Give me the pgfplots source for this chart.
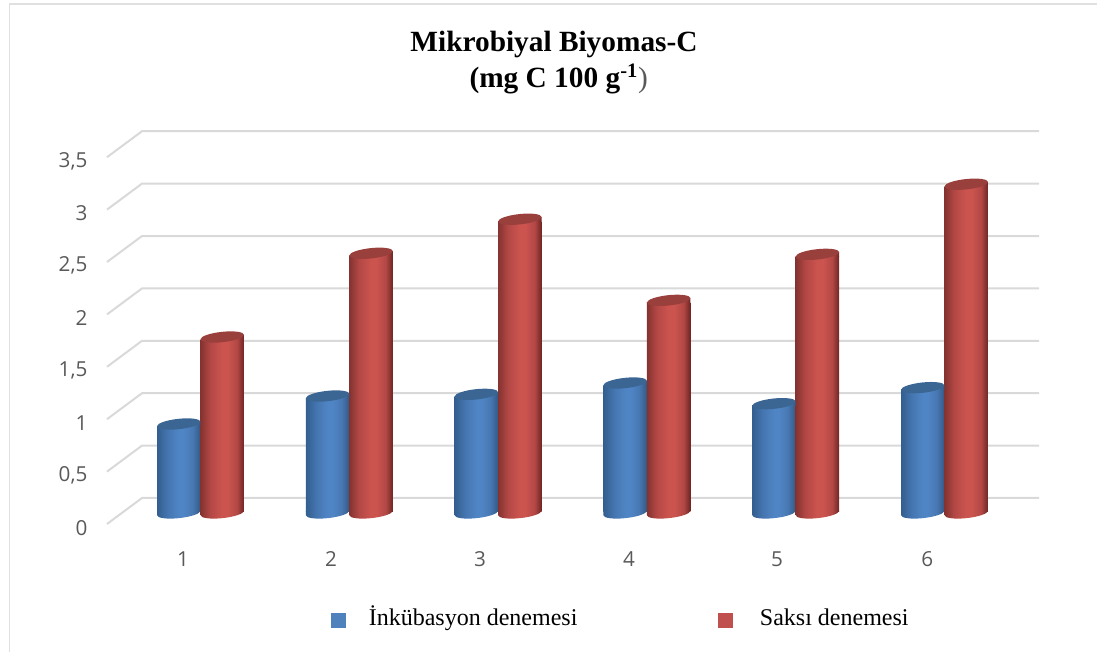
\documentclass[border=0pt]{standalone}
\usepackage{fontspec}
\setmainfont{Liberation Serif}
\newfontfamily\tickfont{Open Sans}
\usepackage{pgfplots}
\usepackage{pgfplotstable}
\pgfplotsset{compat=1.18}
\definecolor{gridc}{HTML}{D9D9D9}
\definecolor{bord}{HTML}{E0E0E0}
\definecolor{tickc}{HTML}{595959}
\definecolor{legB}{HTML}{4F81BD}
\definecolor{legR}{HTML}{C0504D}
\pgfdeclarehorizontalshading{cylBlue}{100bp}{
 rgb(0bp)=(.20,.37,.56); rgb(25bp)=(.20,.37,.56); rgb(37bp)=(.27,.46,.69); rgb(50bp)=(.31,.52,.77); rgb(56bp)=(.31,.52,.77); rgb(66bp)=(.28,.47,.70); rgb(75bp)=(.20,.35,.52); rgb(100bp)=(.20,.35,.52)}
\pgfdeclarehorizontalshading{cylRed}{100bp}{
 rgb(0bp)=(.52,.20,.19); rgb(25bp)=(.52,.20,.19); rgb(36bp)=(.70,.28,.27); rgb(50bp)=(.80,.33,.31); rgb(56bp)=(.80,.33,.31); rgb(67bp)=(.70,.28,.27); rgb(73bp)=(.50,.18,.17); rgb(75bp)=(.42,.15,.14); rgb(100bp)=(.42,.15,.14)}
% half-width, tilt and half-height of the cylinder's ellipses
\def\cylw{16.3pt}\def\cyls{1.65pt}\def\cylh{3.9pt}
\newcommand\cylellipse{\pgfpathellipse{\pgfpointorigin}{\pgfpoint{\cylw}{\cyls}}{\pgfpoint{0pt}{\cylh}}}
% bottom: shaded ellipse and the triangle that closes it up to the flat foot of the bar
\newcommand\cylfoot[1]{%
 \cylellipse
 \pgfpathmoveto{\pgfpoint{-\cylw}{-\cyls}}%
 \pgfpathlineto{\pgfpoint{\cylw}{\cyls}}%
 \pgfpathlineto{\pgfpoint{-\cylw}{\cyls}}%
 \pgfpathclose
 \pgfshadepath{#1}{0}\pgfusepath{discard}}
% top: shaded triangle from the flat head of the bar, then the filled ellipse
\newcommand\cylhead[1]{%
 \pgfpathmoveto{\pgfpoint{-\cylw}{-\cyls}}%
 \pgfpathlineto{\pgfpoint{\cylw}{-\cyls}}%
 \pgfpathlineto{\pgfpoint{\cylw}{\cyls}}%
 \pgfpathclose
 \pgfshadepath{#1}{0}\pgfusepath{discard}%
 \cylellipse\pgfusepathqfill}
\pgfdeclareplotmark{cylBottomB}{\cylfoot{cylBlue}}
\pgfdeclareplotmark{cylBottomR}{\cylfoot{cylRed}}
\pgfdeclareplotmark{cylTopB}{\cylhead{cylBlue}}
\pgfdeclareplotmark{cylTopR}{\cylhead{cylRed}}
\pgfplotstableread{
k blue red
1 0.856 1.686
2 1.123 2.485
3 1.139 2.810
4 1.247 2.036
5 1.050 2.475
6 1.203 3.144
}\biomass
\begin{document}
\begin{tikzpicture}[x=0.75pt,y=0.75pt]
\path[use as bounding box] (0,0) rectangle (1097,652);
\draw[bord,line width=1.4pt] (9.5,0) -- (9.5,648) -- (1097,648);
\node[align=center,font=\bfseries\fontsize{22}{27}\selectfont] at (554,589)
 {Mikrobiyal Biyomas-C\\\hspace*{7pt}(mg C 100 g\textsuperscript{-1}{\mdseries\color{tickc})}};
\begin{axis}[
 at={(80.25pt,80.25pt)},anchor=south west,
 scale only axis,width=699pt,height=310.5pt,
 clip=false,
 xmin=0.3716,xmax=6.6351,ymin=-0.2987,ymax=3.652,
 axis line style={draw=none},
 major tick length=0pt,
 xtick={0.882,1.877,2.878,3.88,4.875,5.884},
 xticklabels={1,2,3,4,5,6},
 ytick={-0.0983,0.4017,0.9017,1.4017,1.9017,2.4017,2.9017,3.4017},
 yticklabels={0,{0,5},1,{1,5},2,{2,5},3,{3,5}},
 tick label style={font=\tickfont\fontsize{15.5}{18}\selectfont,text=tickc,inner sep=0pt},
 yticklabel style={anchor=east,xshift=-14.5pt,yshift=-2.8pt},
 xticklabel style={anchor=north,yshift=-4.5pt},
 legend style={at={(0.2357,-0.1815)},anchor=west,draw=none,fill=none,
   font=\fontsize{18}{20}\selectfont,legend columns=2,
   /tikz/every even column/.append style={column sep=88pt},
   nodes={inner xsep=17.5pt,inner ysep=0pt,text height=12pt,text depth=4pt}},
 legend image code/.code={\fill[#1] (0pt,-5pt) rectangle (10.5pt,5pt);},
]
\addlegendimage{legB}
\addlegendentry{İnkübasyon denemesi}
\addlegendimage{legR}
\addlegendentry{\hspace*{3pt}Saksı denemesi}
% wall gridlines
\addplot[forget plot,gridc,line width=1.5pt] coordinates {(0.3716,-0.0983)(0.6069,0.1498)(6.6351,0.1498)};
\addplot[forget plot,gridc,line width=1.5pt] coordinates {(0.3716,0.4017)(0.6069,0.6498)(6.6351,0.6498)};
\addplot[forget plot,gridc,line width=1.5pt] coordinates {(0.3716,0.9017)(0.6069,1.1498)(6.6351,1.1498)};
\addplot[forget plot,gridc,line width=1.5pt] coordinates {(0.3716,1.4017)(0.6069,1.6498)(6.6351,1.6498)};
\addplot[forget plot,gridc,line width=1.5pt] coordinates {(0.3716,1.9017)(0.6069,2.1498)(6.6351,2.1498)};
\addplot[forget plot,gridc,line width=1.5pt] coordinates {(0.3716,2.4017)(0.6069,2.6498)(6.6351,2.6498)};
\addplot[forget plot,gridc,line width=1.5pt] coordinates {(0.3716,2.9017)(0.6069,3.1498)(6.6351,3.1498)};
\addplot[forget plot,gridc,line width=1.5pt] coordinates {(0.3716,3.4017)(0.6069,3.6498)(6.6351,3.6498)};
% blue cylinders
\addplot[forget plot,only marks,mark=cylBottomB] table[x expr=\thisrow{k}-0.1462,y expr=0.007] {\biomass};
\pgfplotsinvokeforeach{0,...,5}{
\addplot[forget plot,ybar,bar width=32.6pt,bar shift=0pt,draw=none,shade,shading=cylBlue,yshift=1.65pt,restrict expr to domain={\coordindex}{#1:#1}] table[x expr=\thisrow{k}-0.1462,y expr=\thisrow{blue}-0.042] {\biomass};
}
\addplot[forget plot,only marks,mark=cylTopB,color={rgb,1:red,.23;green,.40;blue,.58}] table[x expr=\thisrow{k}-0.1462,y=blue] {\biomass};
% red cylinders
\addplot[forget plot,only marks,mark=cylBottomR] table[x expr=\thisrow{k}+0.1462,y expr=0.007] {\biomass};
\pgfplotsinvokeforeach{0,...,5}{
\addplot[forget plot,ybar,bar width=32.6pt,bar shift=0pt,draw=none,shade,shading=cylRed,yshift=1.65pt,restrict expr to domain={\coordindex}{#1:#1}] table[x expr=\thisrow{k}+0.1462,y expr=\thisrow{red}-0.042] {\biomass};
}
\addplot[forget plot,only marks,mark=cylTopR,color={rgb,1:red,.60;green,.25;blue,.24}] table[x expr=\thisrow{k}+0.1462,y=red] {\biomass};
\end{axis}
\end{tikzpicture}
\end{document}
